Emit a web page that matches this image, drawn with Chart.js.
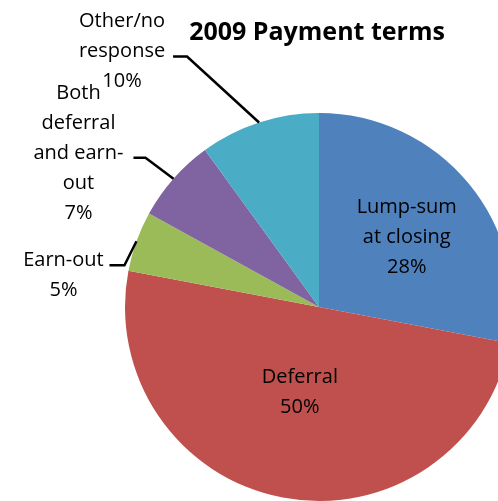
<!DOCTYPE html>
<html>
<head>
<meta charset="utf-8">
<script src="https://cdn.jsdelivr.net/npm/chart.js@4.4.1/dist/chart.umd.min.js"></script>
<style>
  html, body { margin: 0; padding: 0; overflow: hidden; background: #fff; }
  #wrap { position: absolute; left: 0; top: 0; width: 520px; height: 501px; }
</style>
</head>
<body>
<div id="wrap"><canvas id="chart" width="520" height="501"></canvas></div>
<script>
const categories = ['Lump-sum at closing', 'Deferral', 'Earn-out', 'Both deferral and earn-out', 'Other/no response'];
const shares = [28, 50, 5, 7, 10];
const labelLines = [['Lump-sum', 'at closing'], ['Deferral'], ['Earn-out'], ['Both', 'deferral', 'and earn-', 'out'], ['Other/no', 'response']];
const chartTitle = '2009 Payment terms';

const colors = ['#4F81BD', '#C0504D', '#9BBB59', '#8064A2', '#4BACC6'];

// where each label sits, relative to its slice
const labelPlacement = [
  { inside: true, dx: 13, dy: -8 },
  { inside: true, dx: -1, dy: -10 },
  { inside: false, textDx: -73, textDy: 19, elbowDx: -12, elbowDy: 24, endDx: -27 },
  { inside: false, textDx: -95, textDy: -85, elbowDx: -28, elbowDy: -21, endDx: -40 },
  { inside: false, textDx: -137, textDy: -101, elbowDx: -72, elbowDy: -66, endDx: -86 },
];

const LINE_H = 30;
const FONT = '20px "Open Sans", sans-serif';

const labelsPlugin = {
  id: 'sliceLabels',
  afterDatasetsDraw(chart) {
    const { ctx } = chart;
    const meta = chart.getDatasetMeta(0);
    const values = chart.data.datasets[0].data;

    ctx.save();
    ctx.font = FONT;
    ctx.fillStyle = '#000';
    ctx.textAlign = 'center';
    ctx.textBaseline = 'middle';

    meta.data.forEach((arc, i) => {
      const p = labelPlacement[i];
      const lines = [...labelLines[i], `${values[i]}%`];
      const { x, y, startAngle, endAngle, outerRadius } = arc.getProps(['x', 'y', 'startAngle', 'endAngle', 'outerRadius'], true);

      if (p.inside) {
        const pos = arc.tooltipPosition(true);
        const cx = pos.x + p.dx;
        const cy = pos.y + p.dy - ((lines.length - 1) * LINE_H) / 2;
        lines.forEach((t, k) => ctx.fillText(t, cx, cy + k * LINE_H));
        return;
      }

      const mid = (startAngle + endAngle) / 2;
      const ex = x + Math.cos(mid) * outerRadius;
      const ey = y + Math.sin(mid) * outerRadius;

      ctx.strokeStyle = '#000';
      ctx.lineWidth = 2.5;
      ctx.beginPath();
      ctx.moveTo(ex, ey);
      ctx.lineTo(ex + p.elbowDx, ey + p.elbowDy);
      ctx.lineTo(ex + p.endDx, ey + p.elbowDy);
      ctx.stroke();

      const tx = ex + p.textDx;
      const ty = ey + p.textDy;
      lines.forEach((t, k) => ctx.fillText(t, tx, ty + k * LINE_H));
    });

    ctx.font = 'bold 25px "Open Sans", sans-serif';
    ctx.textBaseline = 'alphabetic';
    ctx.fillText(chartTitle, 317, 40);
    ctx.restore();
  },
};

new Chart(document.getElementById('chart').getContext('2d'), {
  type: 'pie',
  data: {
    labels: categories,
    datasets: [
      {
        data: shares,
        backgroundColor: colors,
        borderWidth: 0,
      },
    ],
  },
  options: {
    responsive: false,
    animation: false,
    devicePixelRatio: 1,
    layout: {
      padding: { left: 125, right: 7, top: 113, bottom: 0 },
    },
    plugins: {
      legend: { display: false },
      tooltip: { enabled: false },
      title: { display: false },
    },
  },
  plugins: [labelsPlugin],
});
</script>
</body>
</html>
